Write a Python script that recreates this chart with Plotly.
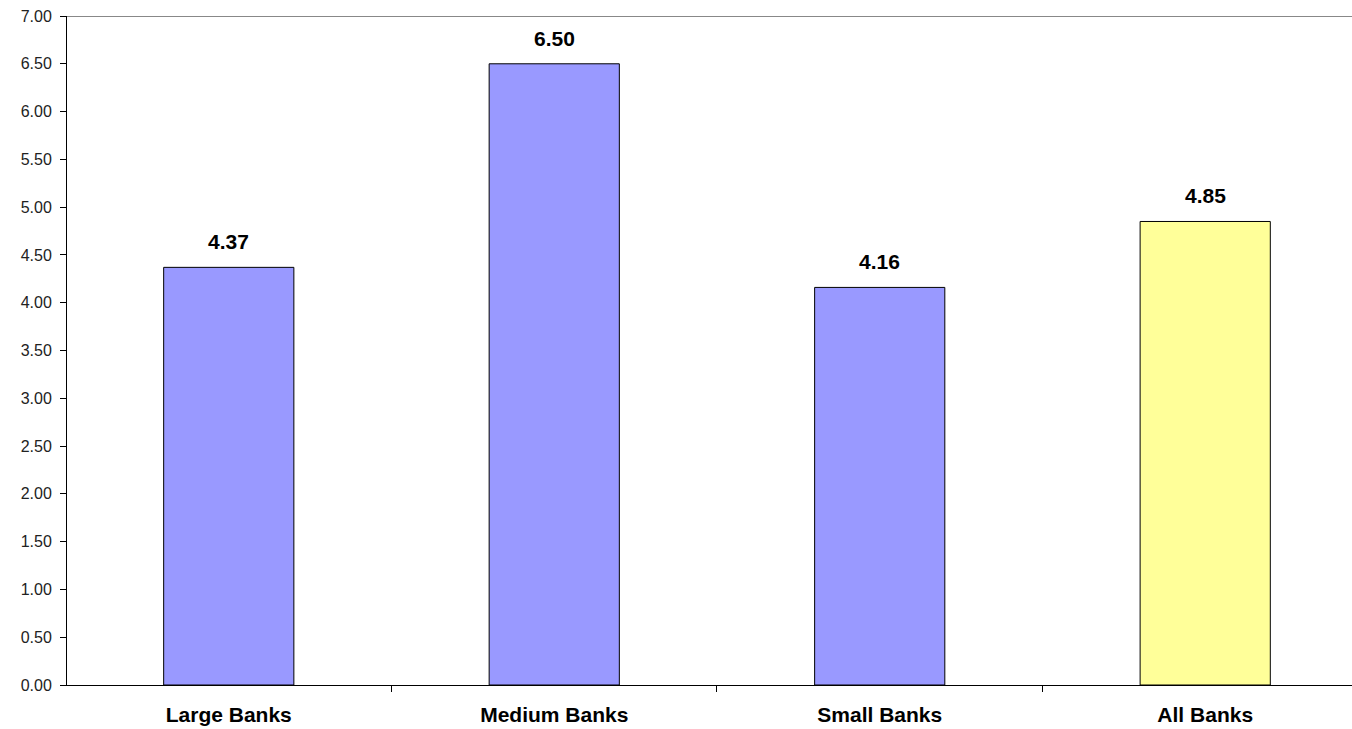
import plotly.graph_objects as go

categories = ["Large Banks", "Medium Banks", "Small Banks", "All Banks"]
values = [4.37, 6.50, 4.16, 4.85]
colors = ["#9999FF", "#9999FF", "#9999FF", "#FFFF99"]
y_ticks = [i * 0.5 for i in range(15)]

fig = go.Figure()
fig.add_trace(go.Bar(
    x=categories, y=values, width=0.4,
    marker=dict(color=colors, line=dict(color="black", width=1)),
    hoverinfo="skip",
))

for c, v in zip(categories, values):
    fig.add_annotation(x=c, y=v, text=f"<b>{v:.2f}</b>", showarrow=False,
                       yanchor="bottom", yshift=12,
                       font=dict(family="Liberation Sans, Arial", size=21, color="black"))

fig.add_shape(type="line", xref="paper", yref="y", x0=0, x1=1, y0=7, y1=7,
              line=dict(color="#888888", width=2))

fig.update_layout(
    width=1352, height=729,
    margin=dict(l=67, r=0, t=16, b=44, autoexpand=False),
    paper_bgcolor="white", plot_bgcolor="white",
    showlegend=False,
)
fig.update_xaxes(
    type="category", range=[-0.497, 3.451], automargin=False,
    showline=True, linecolor="black", linewidth=1,
    ticks="outside", tickson="boundaries", ticklen=6, tickcolor="black",
    tickfont=dict(family="Liberation Sans, Arial", size=21, color="black"),
    ticklabelstandoff=11,
    showgrid=False, zeroline=False,
    tickvals=categories, ticktext=[f"<b>{c}</b>" for c in categories],
)
fig.update_yaxes(
    range=[0, 7], tickvals=y_ticks, ticktext=[f"{t:.2f}" for t in y_ticks],
    automargin=False,
    showline=True, linecolor="black", linewidth=1,
    ticks="outside", ticklen=6, tickcolor="black",
    tickfont=dict(family="Liberation Sans, Arial", size=16, color="#222222"),
    ticklabelstandoff=5,
    showgrid=False, zeroline=False,
)

fig.write_html("out.html")
